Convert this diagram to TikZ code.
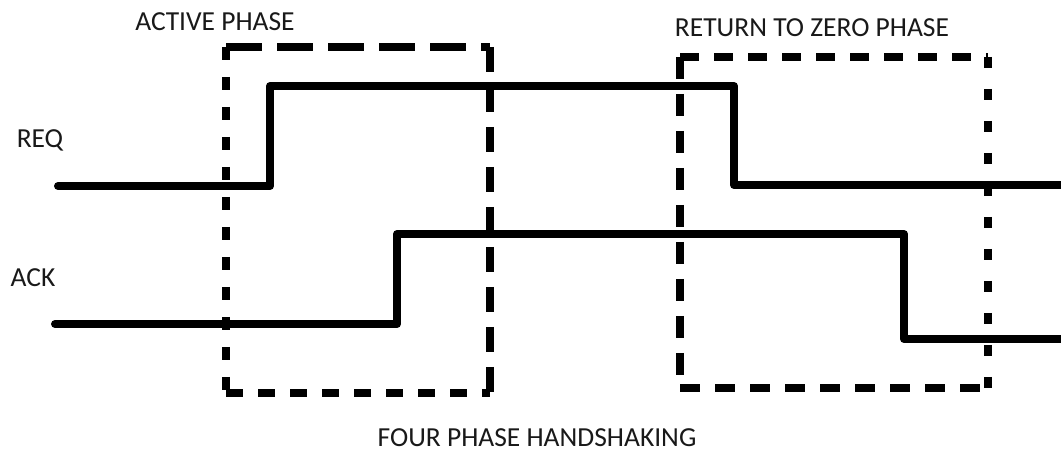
\documentclass[tikz,border=0pt]{standalone}
\usepackage{fontspec}
\setmainfont{Carlito}
\begin{document}
\begin{tikzpicture}[x=1pt,y=-1pt,
  sig/.style={line width=8pt,line join=round,line cap=round},
  box/.style={line width=8pt},
  lbl/.style={inner sep=0pt,text=black!90,font=\fontsize{27.5}{30}\selectfont}]
\useasboundingbox (0,0) rectangle (1061,454);
% signals
\draw[sig] (58,186) -- (270,186) -- (270,86) -- (734,86) -- (734,185) -- (1061,185);
\draw[sig] (55,324) -- (397,324) -- (397,234) -- (904,234) -- (904,339) -- (1061,339);
% active phase box
\coordinate (a1) at (226,47); \coordinate (a2) at (490,47);
\coordinate (a3) at (490,393); \coordinate (a4) at (226,393);
\draw[box,dash pattern=on 36pt off 15pt] (a1) -- (a2);
\draw[box,dash pattern=on 25pt off 15pt] (a2) -- (a3);
\draw[box,dash pattern=on 17pt off 15pt] (a4) -- (a3);
\draw[box,dash pattern=on 13pt off 17pt] (a1) -- (a4);
% return to zero box
\coordinate (r1) at (680,57); \coordinate (r2) at (988,57);
\coordinate (r3) at (988,388); \coordinate (r4) at (680,388);
\draw[box,dash pattern=on 19pt off 15pt] (r1) -- (r2);
\draw[box,dash pattern=on 11pt off 21pt] (r2) -- (r3);
\draw[box,dash pattern=on 20pt off 15pt] (r4) -- (r3);
\draw[box,dash pattern=on 22pt off 15pt] (r1) -- (r4);
% labels
\node[lbl] (act) at (215,22) {ACTIVE PHASE};
\node[lbl] (rtz) at (812,28) {RETURN TO ZERO PHASE};
\node[lbl] (req) at (40,140) {REQ};
\node[lbl] (ack) at (33,278) {ACK};
\node[lbl] (fph) at (537,438) {FOUR PHASE HANDSHAKING};
\end{tikzpicture}
\end{document}
